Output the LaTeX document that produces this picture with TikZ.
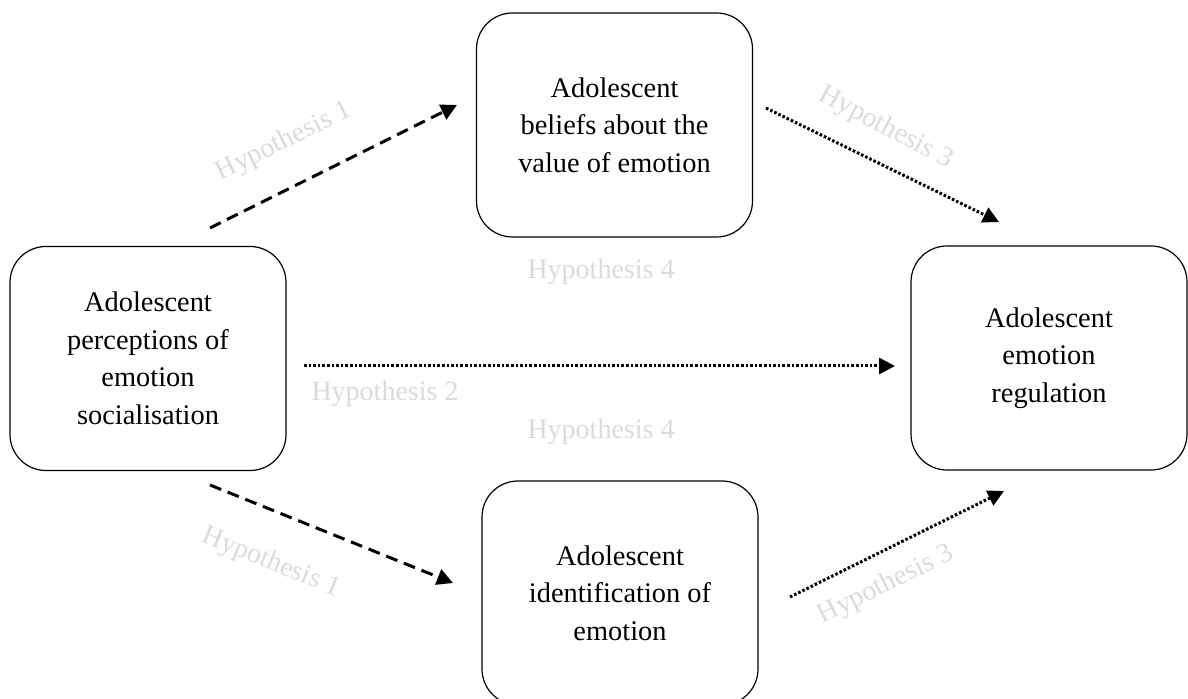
\documentclass[tikz,border=0pt]{standalone}
\usepackage{fontspec}
\setmainfont{Liberation Serif}
\usetikzlibrary{arrows.meta}
\definecolor{HypGray}{gray}{0.86}

\begin{document}
\begin{tikzpicture}[x=0.5pt,y=-0.5pt,
  box/.style={draw,line width=.6pt,rounded corners=18pt,minimum width=138pt,minimum height=112pt,align=center,font=\fontsize{14.2}{18.75}\selectfont},
  hyp/.style={text=HypGray,font=\fontsize{14}{16}\selectfont},
  dashline/.style={line width=1.5pt,dash pattern=on 6pt off 3.5pt,-{Triangle[length=8pt,width=8pt]}},
  dotline/.style={line width=1.5pt,dash pattern=on 1.3pt off 1pt,-{Triangle[length=8pt,width=8pt]}}]
\useasboundingbox (0,0) rectangle (1188,699);

\node[box] (social) at (148,358.5) {Adolescent\\perceptions of\\emotion\\socialisation};
\node[box] (beliefs) at (614.5,125) {Adolescent\\beliefs about the\\value of emotion};
\node[box] (regul) at (1049,358) {Adolescent\\emotion\\regulation};
\node[box] (ident) at (620,593) {Adolescent\\identification of\\emotion};

\coordinate (h1a) at (210,228);
\coordinate (h1b) at (457,105);
\coordinate (h3a) at (766,108);
\coordinate (h3b) at (999,222);
\coordinate (h2a) at (304,366);
\coordinate (h2b) at (895,366);
\coordinate (h1c) at (210,485);
\coordinate (h1d) at (453,583);
\coordinate (h3c) at (790,597);
\coordinate (h3d) at (1004,491);

\draw[dashline] (h1a) -- (h1b);
\draw[dotline] (h3a) -- (h3b);
\draw[dotline] (h2a) -- (h2b);
\draw[dashline] (h1c) -- (h1d);
\draw[dotline] (h3c) -- (h3d);

\node[hyp,rotate=26] (lab1a) at (284,142) {Hypothesis 1};
\node[hyp,rotate=-28] (lab3a) at (886,128) {Hypothesis 3};
\node[hyp] (lab4a) at (601,272) {Hypothesis 4};
\node[hyp] (lab2) at (385,394) {Hypothesis 2};
\node[hyp] (lab4b) at (601,432) {Hypothesis 4};
\node[hyp,rotate=-22] (lab1b) at (271,563) {Hypothesis 1};
\node[hyp,rotate=26] (lab3b) at (886,585) {Hypothesis 3};
\end{tikzpicture}
\end{document}
